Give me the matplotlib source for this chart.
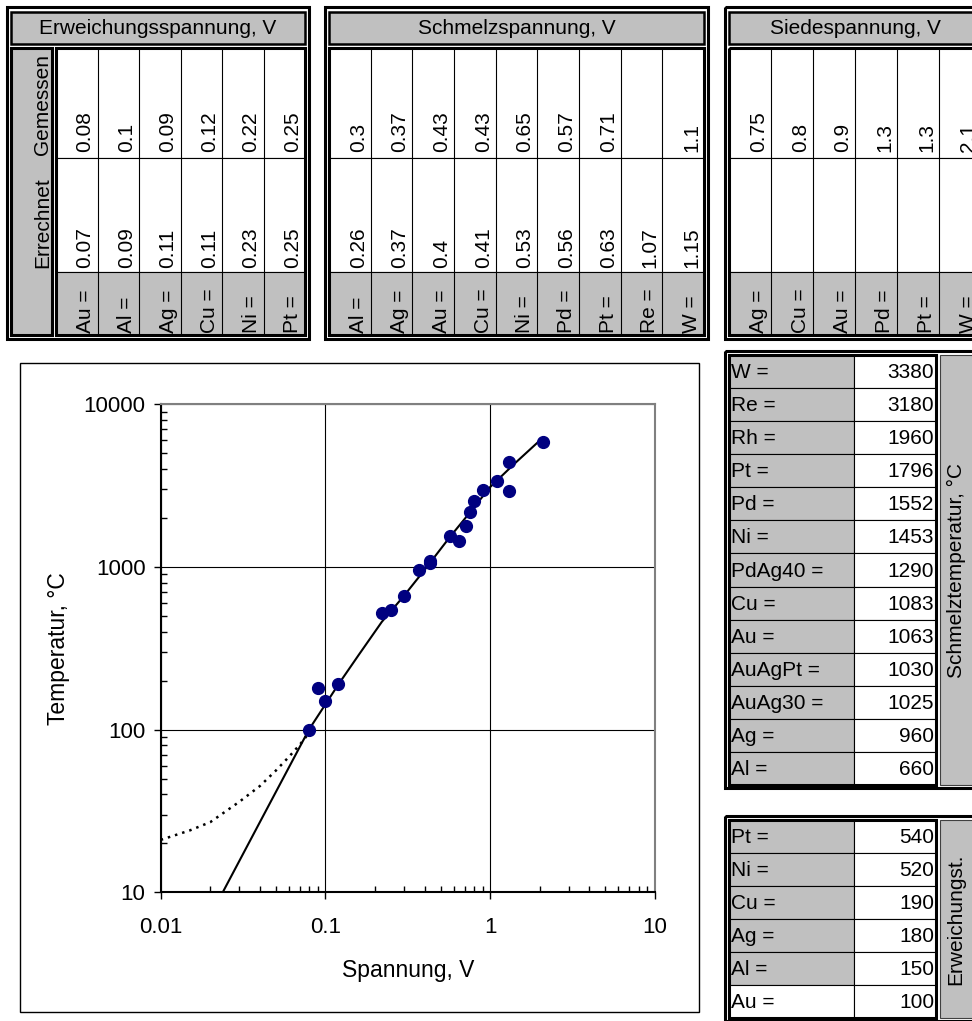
import matplotlib.pyplot as plt
from matplotlib.patches import Rectangle

plt.rcParams['font.family'] = ['Liberation Sans', 'DejaVu Sans']

# Spannungen aus den Tabellen (V)
erw_metalle = ['Au', 'Al', 'Ag', 'Cu', 'Ni', 'Pt']
erw_gemessen = [0.08, 0.1, 0.09, 0.12, 0.22, 0.25]
erw_errechnet = [0.07, 0.09, 0.11, 0.11, 0.23, 0.25]

schm_metalle = ['Al', 'Ag', 'Au', 'Cu', 'Ni', 'Pd', 'Pt', 'Re', 'W']
schm_gemessen = [0.3, 0.37, 0.43, 0.43, 0.65, 0.57, 0.71, None, 1.1]
schm_errechnet = [0.26, 0.37, 0.4, 0.41, 0.53, 0.56, 0.63, 1.07, 1.15]

siede_metalle = ['Ag', 'Cu', 'Au', 'Pd', 'Pt', 'W']
siede_gemessen = [0.75, 0.8, 0.9, 1.3, 1.3, 2.1]
siede_errechnet = [None] * 6

# Temperaturen (°C)
schmelz_namen = ['W', 'Re', 'Rh', 'Pt', 'Pd', 'Ni', 'PdAg40', 'Cu', 'Au',
                 'AuAgPt', 'AuAg30', 'Ag', 'Al']
schmelz_temp = [3380, 3180, 1960, 1796, 1552, 1453, 1290, 1083, 1063,
                1030, 1025, 960, 660]
erw_namen = ['Pt', 'Ni', 'Cu', 'Ag', 'Al', 'Au']
erw_temp = [540, 520, 190, 180, 150, 100]
siede_temp = [2170, 2540, 2970, 2940, 4400, 5900]

# Kurven im Diagramm
kurve_u = [0.0238, 0.04, 0.0794, 0.12, 0.16, 0.22, 0.298, 0.40, 0.567,
           0.75, 1.0, 1.4, 1.95]
kurve_t = [10, 27, 100, 190, 290, 460, 660, 960, 1520, 2150, 3100, 4300, 5850]
punkt_kurve_u = [0.01, 0.015, 0.02, 0.03, 0.04, 0.05, 0.06, 0.07, 0.078]
punkt_kurve_t = [21, 24, 27, 36, 45, 56, 68, 81, 93]

GRAU = '#C0C0C0'
FS = 15


def rect(ax, x0, y0, x1, y1, fc='none', ec='black', lw=1.0, z=1):
    ax.add_patch(Rectangle((x0, y0), x1 - x0, y1 - y0, facecolor=fc,
                           edgecolor=ec, linewidth=lw, zorder=z))


def vtext(ax, x, y, s):
    # senkrechter Text, unten ausgerichtet
    ax.text(x, y, s, rotation=90, rotation_mode='anchor', ha='left',
            va='baseline', fontsize=FS, zorder=5)


def top_table(ax, x0, x1, cx0, title, metalle, gem, err, header=False):
    rect(ax, x0, 7, x1, 339, lw=2.2)
    rect(ax, x0 + 4, 12, x1 - 4, 44, fc=GRAU, lw=1.8)
    ax.text((x0 + x1) / 2, 29, title, ha='center', va='center', fontsize=FS)
    if header:
        rect(ax, x0 + 4, 48, cx0 - 4, 335, fc=GRAU, lw=2.2)
        vtext(ax, cx0 - 8, 155, 'Gemessen')
        vtext(ax, cx0 - 8, 268, 'Errechnet')
    cx1 = x1 - 4
    n = len(metalle)
    w = (cx1 - cx0) / n
    rect(ax, cx0, 48, cx1, 158, fc='white', lw=0.8)
    rect(ax, cx0, 158, cx1, 272, fc='white', lw=0.8)
    rect(ax, cx0, 272, cx1, 335, fc=GRAU, lw=0.8)
    for i in range(1, n):
        xx = cx0 + i * w
        ax.plot([xx, xx], [48, 335], color='black', lw=0.8, zorder=2)
    for i, m in enumerate(metalle):
        xb = cx0 + (i + 1) * w - 7
        if gem[i] is not None:
            vtext(ax, xb, 152, str(gem[i]))
        if err[i] is not None:
            vtext(ax, xb, 268, str(err[i]))
        vtext(ax, xb, 333, m + ' =')
    rect(ax, cx0, 48, cx1, 335, lw=2.2, z=3)


def side_table(ax, y0, y1, namen, werte, titel, last_white=False):
    rect(ax, 725, y0, 995, y1, lw=2.2)
    ty0, ty1 = y0 + 4, y1 - 3
    n = len(namen)
    h = (ty1 - ty0) / n
    for i, (nm, v) in enumerate(zip(namen, werte)):
        ya = ty0 + i * h
        fc = 'white' if (last_white and i == n - 1) else GRAU
        rect(ax, 729, ya, 854, ya + h, fc=fc, lw=0.8)
        rect(ax, 854, ya, 936, ya + h, fc='white', lw=0.8)
        ax.text(731, ya + h / 2 + 1, nm + ' =', ha='left', va='center',
                fontsize=FS)
        ax.text(934, ya + h / 2 + 1, str(v), ha='right', va='center',
                fontsize=FS)
    rect(ax, 729, ty0, 936, ty1, lw=2.2, z=3)
    rect(ax, 940, ty0, 1000, ty1, fc=GRAU, ec='#404040', lw=0.8)
    ax.text(956, (ty0 + ty1) / 2, titel, rotation=90, ha='center',
            va='center', fontsize=FS)


fig = plt.figure(figsize=(9.72, 10.21), dpi=100)
bg = fig.add_axes([0, 0, 1, 1], zorder=0)
bg.set_xlim(0, 972)
bg.set_ylim(1021, 0)
bg.axis('off')

top_table(bg, 7, 309, 56, 'Erweichungsspannung, V', erw_metalle,
          erw_gemessen, erw_errechnet, header=True)
top_table(bg, 325, 708, 329, 'Schmelzspannung, V', schm_metalle,
          schm_gemessen, schm_errechnet)
top_table(bg, 725, 985, 729, 'Siedespannung, V', siede_metalle,
          siede_gemessen, siede_errechnet)

side_table(bg, 351, 788, schmelz_namen, schmelz_temp, 'Schmelztemperatur, °C')
side_table(bg, 816, 1021, erw_namen, erw_temp, 'Erweichungst.', last_white=True)

# Diagrammrahmen
rect(bg, 20, 363, 699, 1012, fc='white', lw=1.0)
bg.text(58, 649, 'Temperatur, °C', rotation=90, ha='center', va='center',
        fontsize=16.5)
bg.text(408, 970, 'Spannung, V', ha='center', va='center', fontsize=16.5)

ax = fig.add_axes([160.7 / 972, 1 - 892.3 / 1021, (654.9 - 160.7) / 972,
                   (892.3 - 404.3) / 1021], zorder=2)
ax.set_xscale('log')
ax.set_yscale('log')

# Messpunkte: Spannung gegen Temperatur
pu, pt = [], []
erw_dict = dict(zip(erw_namen, erw_temp))
schm_dict = dict(zip(schmelz_namen, schmelz_temp))
for m, u in zip(erw_metalle, erw_gemessen):
    pu.append(u)
    pt.append(erw_dict[m])
for m, u in zip(schm_metalle, schm_gemessen):
    if u is not None:
        pu.append(u)
        pt.append(schm_dict[m])
for u, t in zip(siede_gemessen, siede_temp):
    pu.append(u)
    pt.append(t)

ax.plot(kurve_u, kurve_t, color='black', lw=1.5, zorder=3)
ax.plot(punkt_kurve_u, punkt_kurve_t, color='black', lw=1.8,
        linestyle=(0, (1, 2)), zorder=3)
ax.plot(pu, pt, 'o', color='#000080', markersize=8.5, zorder=4)

ax.set_xlim(0.01, 10)
ax.set_ylim(10, 10000)
ax.set_xticks([0.01, 0.1, 1, 10], ['0.01', '0.1', '1', '10'])
ax.set_yticks([10, 100, 1000, 10000], ['10', '100', '1000', '10000'])
ax.grid(True, which='major', color='black', lw=0.8)
ax.grid(False, which='minor')
ax.tick_params(which='major', direction='out', length=5, width=1,
               labelsize=16)
ax.tick_params(axis='x', which='major', pad=13)
ax.tick_params(axis='y', which='major', pad=6)
ax.tick_params(which='minor', direction='in', length=4.5, width=1)
for s in ['left', 'bottom']:
    ax.spines[s].set_color('black')
    ax.spines[s].set_linewidth(1.5)
for s in ['top', 'right']:
    ax.spines[s].set_color('#808080')
    ax.spines[s].set_linewidth(1.5)

plt.savefig('out.png', dpi=100)
